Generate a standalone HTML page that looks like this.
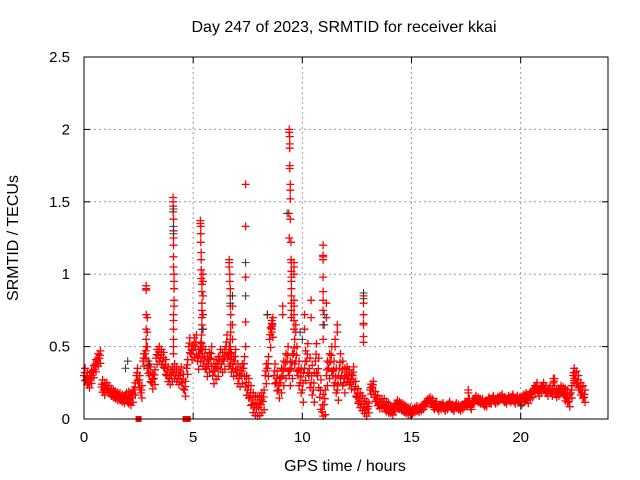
<!DOCTYPE html>
<html><head><meta charset="utf-8"><style>
html,body{margin:0;padding:0;background:#fff;}
svg{display:block;font-family:"Liberation Sans",sans-serif;}
</style></head><body>
<svg id="chart" width="640" height="480">
<text x="344" y="32" text-anchor="middle" font-size="16">Day 247 of 2023, SRMTID for receiver kkai</text>
<text transform="translate(18,238) rotate(-90)" text-anchor="middle" font-size="16">SRMTID / TECUs</text>
<text x="345" y="471" text-anchor="middle" font-size="16">GPS time / hours</text>
<g id="grid"></g>
<g id="ticks"></g>
<g id="marks"></g>
<rect x="84" y="57" width="524" height="362" fill="none" stroke="#000" stroke-width="1"/>
</svg>
<script>
const xTicks=[0,5,10,15,20];
const yTicks=[0,0.5,1,1.5,2,2.5];
const yTickLabels=["0","0.5","1","1.5","2","2.5"];
const baseV=[0.30,0.27,0.25,0.28,0.32,0.36,0.40,0.42,0.22,0.20,
0.22,0.20,0.18,0.17,0.16,0.15,0.15,0.14,0.13,0.15,
0.14,0.13,0.15,0.20,0.30,0.25,0.18,0.40,0.45,0.35,
0.30,0.25,0.28,0.42,0.44,0.42,0.40,0.35,0.30,0.28,
0.30,0.32,0.30,0.28,0.30,0.25,0.20,0.35,0.50,0.45,
0.48,0.50,0.40,0.45,0.42,0.40,0.35,0.38,0.42,0.30,
0.33,0.35,0.40,0.38,0.40,0.50,0.42,0.38,0.35,0.40,
0.30,0.28,0.30,0.35,0.22,0.20,0.15,0.10,0.08,0.07,
0.08,0.10,0.12,0.30,0.35,0.55,0.62,0.30,0.25,0.20,
0.25,0.30,0.35,0.40,0.30,0.35,0.45,0.40,0.30,0.25,
0.20,0.35,0.40,0.30,0.25,0.20,0.40,0.30,0.15,0.05,
0.10,0.30,0.35,0.40,0.30,0.25,0.20,0.35,0.30,0.25,
0.30,0.28,0.25,0.30,0.20,0.15,0.12,0.10,0.08,0.06,
0.07,0.20,0.22,0.15,0.12,0.10,0.10,0.10,0.08,0.07,
0.06,0.05,0.07,0.10,0.09,0.08,0.07,0.06,0.05,0.05,
0.05,0.06,0.07,0.06,0.07,0.08,0.10,0.12,0.13,0.12,
0.08,0.10,0.07,0.08,0.09,0.07,0.08,0.10,0.08,0.07,
0.09,0.08,0.07,0.08,0.10,0.10,0.12,0.08,0.12,0.14,
0.13,0.12,0.12,0.10,0.10,0.13,0.12,0.14,0.12,0.13,
0.14,0.15,0.13,0.12,0.14,0.13,0.15,0.12,0.14,0.13,
0.12,0.14,0.15,0.13,0.16,0.17,0.20,0.22,0.18,0.20,
0.22,0.20,0.18,0.20,0.18,0.25,0.17,0.18,0.20,0.19,
0.16,0.15,0.12,0.18,0.30,0.28,0.25,0.20,0.18,0.15];
const baseStep=0.1;
const hourSpread=[0.05,0.03,0.05,0.06,0.06,0.08,0.08,0.08,0.08,0.10,0.12,0.10,0.06,0.04,0.03,0.02,0.02,0.02,0.02,0.02,0.03,0.03,0.05];
const spikeT=[2.85,2.85,2.85,2.85,2.85,2.85,2.85,2.9,2.9,2.9,
4.08,4.08,4.08,4.08,4.1,4.1,4.1,4.1,4.1,4.1,4.12,4.12,4.12,4.12,4.12,4.1,4.1,4.1,4.1,4.1,4.1,
5.33,5.33,5.35,5.35,5.35,5.37,5.37,5.37,5.37,5.4,5.4,5.4,5.4,5.4,5.4,5.38,5.38,5.38,
5.45,5.45,5.45,5.45,5.45,
6.65,6.65,6.65,6.68,6.68,6.7,6.7,6.7,6.72,6.72,6.72,6.7,6.7,6.7,
6.8,6.8,6.8,
7.4,7.4,7.4,7.4,7.4,
9.4,9.4,9.42,9.42,9.42,9.42,9.42,9.45,9.45,9.45,9.38,9.45,9.4,9.48,9.48,9.5,9.5,9.5,9.5,9.5,9.5,9.5,9.5,9.5,
9.62,9.62,9.62,9.62,9.62,9.62,9.62,9.62,
8.6,8.6,8.6,8.6,8.4,9.1,9.1,9.7,9.7,
10.1,10.1,10.4,10.4,
10.95,10.95,10.95,10.95,10.95,10.95,10.95,10.95,10.95,10.95,
11.1,11.1,11.5,11.5,11.6,11.6,
12.8,12.8,12.8,12.8,12.8,12.8,12.8,
17.6,17.6,21.5,21.5,22.45,22.45,22.45,22.45];
const spikeV=[0.92,0.90,0.89,0.72,0.62,0.55,0.50,0.70,0.60,0.50,
1.53,1.50,1.47,1.43,1.38,1.30,1.25,1.20,1.12,1.05,1.00,0.95,0.90,0.82,0.78,0.72,0.68,0.62,0.55,0.50,0.45,
1.37,1.35,1.33,1.28,1.22,1.15,1.10,1.03,0.97,0.93,0.88,0.80,0.75,0.70,0.65,0.58,0.52,0.48,
1.00,0.95,0.85,0.72,0.62,
1.10,1.08,1.05,1.00,0.95,0.90,0.85,0.78,0.72,0.65,0.60,0.55,0.50,0.45,
0.78,0.65,0.55,
1.62,1.33,0.98,0.67,0.50,
2.00,1.98,1.95,1.90,1.87,1.75,1.73,1.62,1.58,1.52,1.42,1.38,1.25,1.22,1.10,1.08,1.02,0.98,0.95,0.90,0.85,0.80,0.75,0.70,
1.08,1.05,1.00,0.82,0.78,0.72,0.68,0.62,
0.68,0.66,0.64,0.60,0.72,0.78,0.72,0.65,0.60,
0.72,0.62,0.82,0.70,
1.20,1.13,1.12,1.10,0.98,0.88,0.82,0.75,0.65,0.55,
0.80,0.70,0.55,0.50,0.65,0.60,
0.85,0.80,0.72,0.66,0.65,0.57,0.53,
0.20,0.18,0.28,0.25,0.35,0.32,0.28,0.25];
const darkT=[4.1,4.1,4.1,9.3,7.4,7.4,12.8,12.8,6.8,6.7,8.4,10.0,11.0,11.0,2.0,1.9,5.4,3.0,9.9,20.0];
const darkV=[1.33,1.45,1.28,1.42,1.08,0.85,0.87,0.83,0.85,0.80,0.72,0.55,0.72,0.65,0.40,0.35,0.62,0.38,0.60,0.09];
const zeroT=[2.5,4.65,4.75];

const X0=84,X1=608,Y0=419,Y1=57,XMAX=24,YMAX=2.5;
const sx=t=>X0+(X1-X0)*t/XMAX;
const sy=v=>Y0-(Y0-Y1)*v/YMAX;
const NS="http://www.w3.org/2000/svg";
const grid=document.getElementById('grid'),ticks=document.getElementById('ticks'),marks=document.getElementById('marks');
function line(g,x1,y1,x2,y2,st,dash){const l=document.createElementNS(NS,'line');l.setAttribute('x1',x1);l.setAttribute('y1',y1);l.setAttribute('x2',x2);l.setAttribute('y2',y2);l.setAttribute('stroke',st);if(dash)l.setAttribute('stroke-dasharray',dash);g.appendChild(l);return l;}
function txt(s,x,y,anc){const t=document.createElementNS(NS,'text');t.setAttribute('x',x);t.setAttribute('y',y);t.setAttribute('text-anchor',anc);t.setAttribute('font-size','15');t.textContent=s;ticks.appendChild(t);return t;}
xTicks.forEach(v=>{const x=sx(v);
 if(v>0){const g=line(grid,x,Y0,x,Y1,'#999','2,3');
 
 }
 line(ticks,x,Y0,x,Y0-6,'#000');line(ticks,x,Y1,x,Y1+6,'#000');
 const t=txt(String(v),x,442,'middle');
 
 });
yTicks.forEach((v,i)=>{const y=sy(v);
 if(v>0&&v<YMAX){const g=line(grid,X0,y,X1,y,'#999','2,3');
 
 }
 line(ticks,X0,y,X0+6,y,'#000');line(ticks,X1,y,X1-6,y,'#000');
 const t=txt(yTickLabels[i],70,y+5,'end');
 
 });
let dRed='',dDark='';
const plus=(t,v)=>{const x=sx(t),y=sy(v);return `M${(x-4).toFixed(1)} ${y.toFixed(1)}h8M${x.toFixed(1)} ${(y-4).toFixed(1)}v8`;};
baseV.forEach((v,i)=>{const t=i*baseStep;const s=hourSpread[Math.min(hourSpread.length-1,Math.floor(t))];
 dRed+=plus(t,v);dRed+=plus(t+0.05,v+s);dRed+=plus(t+0.05,Math.max(0.02,v-s*0.7));dRed+=plus(t+0.03,v+s*0.4);});
spikeT.forEach((t,i)=>{dRed+=plus(t,spikeV[i]);});
darkT.forEach((t,i)=>{dDark+=plus(t,darkV[i]);});
const pr=document.createElementNS(NS,'path');pr.setAttribute('d',dRed);pr.setAttribute('stroke','#ff0000');pr.setAttribute('fill','none');pr.setAttribute('stroke-width','1.3');


marks.appendChild(pr);
const pd=document.createElementNS(NS,'path');pd.setAttribute('d',dDark);pd.setAttribute('stroke','#333');pd.setAttribute('fill','none');pd.setAttribute('stroke-width','1');


marks.appendChild(pd);
zeroT.forEach(t=>{const r=document.createElementNS(NS,'rect');r.setAttribute('x',sx(t)-3);r.setAttribute('y',Y0-3);r.setAttribute('width',6);r.setAttribute('height',6);r.setAttribute('fill','#ff0000');
 
 
 marks.appendChild(r);});
</script>
</body></html>
